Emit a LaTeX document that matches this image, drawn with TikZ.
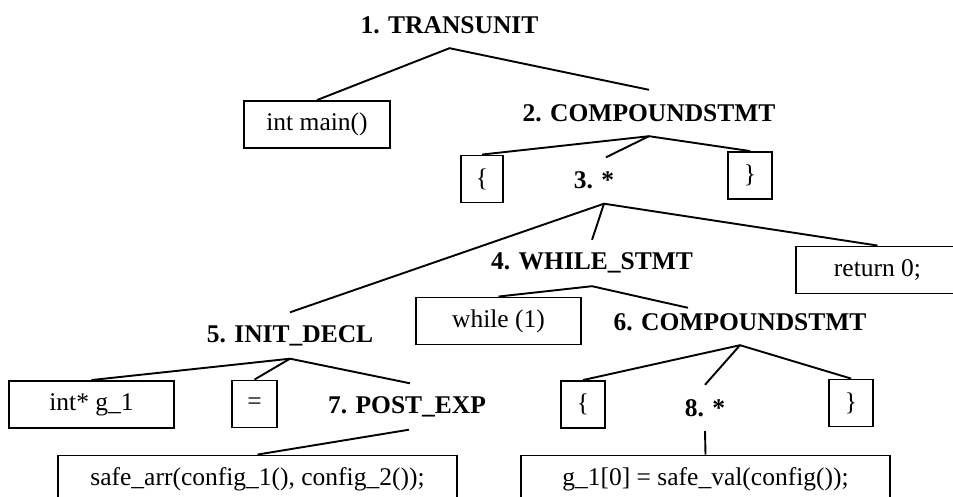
\documentclass[tikz,border=0pt]{standalone}
\usepackage{fontspec}
\setmainfont{Liberation Serif}
\usetikzlibrary{calc}
\begin{document}
\begin{tikzpicture}[x=1pt,y=-1pt,
  lbl/.style={font=\fontsize{25.5}{30}\selectfont\bfseries, inner sep=0pt, minimum height=46pt},
  box/.style={draw, line width=1.9pt, font=\fontsize{25.5}{30}\selectfont, inner sep=0pt, minimum height=47pt},
  edge/.style={line width=1.9pt}]
\useasboundingbox (0,0) rectangle (953,497);
\fill[white] (0,0) rectangle (953,497);
\clip (0,0) rectangle (953,497);

\node[lbl] (n1) at (449.5,25) {1. TRANSUNIT};
\node[box, minimum width=146pt] (b1) at (317,124.5) {int main()};
\node[lbl] (n2) at (649,113) {2. COMPOUNDSTMT};
\node[box, minimum width=42pt] (b2) at (482,179) {\{};
\node[box, minimum width=44pt] (b3) at (750,175.5) {\}};
\node[lbl] (n3) at (594,180.5) {3. *};
\node[box, minimum width=163pt] (b4) at (877.5,270) {return 0;};
\node[lbl] (n4) at (592,263) {4. WHILE\_STMT};
\node[box, minimum width=165pt] (b5) at (498.5,321) {while (1)};
\node[lbl] (n5) at (290,335.5) {5. INIT\_DECL};
\node[lbl] (n6) at (740,322) {6. COMPOUNDSTMT};
\node[box, minimum width=165pt] (b6) at (91.5,404.5) {int* g\_1};
\node[box, minimum width=45pt] (b7) at (254.5,404) {=};
\node[lbl] (n7) at (407,406.5) {7. POST\_EXP};
\node[box, minimum width=44pt] (b8) at (583,404.5) {\{};
\node[lbl] (n8) at (705,408) {8. *};
\node[box, minimum width=44pt] (b9) at (851,403) {\}};
\node[box, minimum width=399pt] (b10) at (257.5,479) {safe\_arr(config\_1(), config\_2());};
\node[box, minimum width=369pt] (b11) at (705.5,479) {g\_1[0] = safe\_val(config());};

\draw[edge] (b1.north) -- (n1.south) -- (n2.north);
\draw[edge] (b2.north) -- (n2.south) -- (b3.north);
\draw[edge] (n2.south) -- ($(n3.north)+(12,0)$);
\draw[edge] (n5.north) -- ($(n3.south)+(10,0)$) -- (b4.north);
\draw[edge] ($(n3.south)+(10,0)$) -- (n4.north);
\draw[edge] (b5.north) -- (n4.south) -- ($(n6.north)+(-52,9)$);
\draw[edge] (b6.north) -- (n5.south) -- ($(n7.north)+(3,0)$);
\draw[edge] (n5.south) -- (b7.north);
\draw[edge] (b8.north) -- (n6.south) -- (b9.north);
\draw[edge] (n6.south) -- (n8.north);
\draw[edge] ($(n7.south)+(2,0)$) -- (b10.north);
\draw[edge] (n8.south) -- (b11.north);
\end{tikzpicture}
\end{document}
